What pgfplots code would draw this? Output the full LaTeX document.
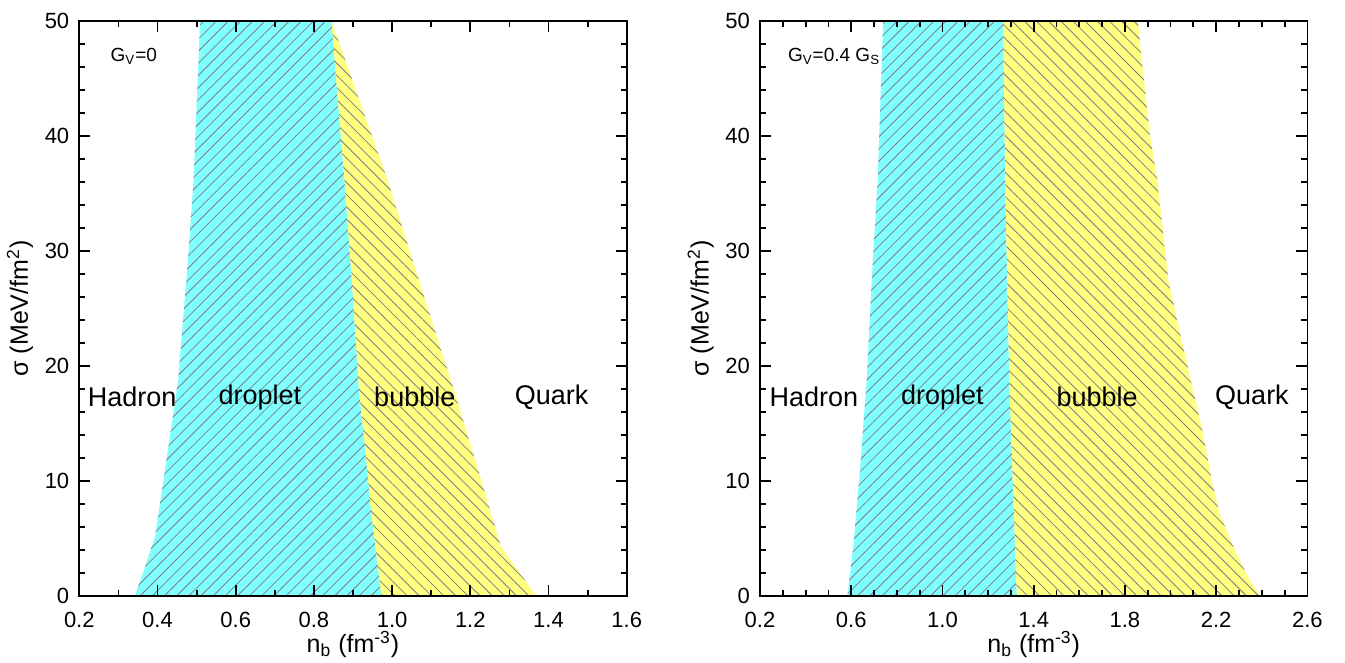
\documentclass[border=0pt]{standalone}
\usepackage{fontspec}
\setmainfont{Liberation Sans}
\usepackage{pgfplots}
\pgfplotsset{compat=1.18}
\usetikzlibrary{patterns.meta}

\definecolor{cyanF}{RGB}{128,255,255}
\definecolor{yellowF}{RGB}{255,255,128}
\definecolor{hatch}{RGB}{128,124,136}

\tikzset{region/.style={font=\fontsize{13.5}{15}\selectfont}}

\pgfplotsset{
  phase/.style={
    width=273.7pt, height=287.5pt, scale only axis,
    anchor=south west,
    xmin=0.2, ymin=0, ymax=50,
    axis on top,
    axis line style={line width=0.9pt},
    tick align=inside,
    major tick length=5.5pt, minor tick length=3pt,
    tick style={black, line width=0.9pt},
    ytick={0,10,20,30,40,50}, minor y tick num=4,
    tick label style={font=\fontsize{11}{13}\selectfont},
    /pgf/number format/assume math mode=true,
    xticklabel style={yshift=-4.5pt, /pgf/number format/.cd, fixed, fixed zerofill, precision=1},
    yticklabel style={xshift=-1.5pt},
    xlabel={n\textsubscript{b} (fm\textsuperscript{-3})},
    ylabel={σ (MeV/fm\textsuperscript{2})},
    xlabel style={yshift=5pt, font=\fontsize{12.5}{14}\selectfont},
    ylabel style={yshift=-1pt, font=\fontsize{12.5}{14}\selectfont},
  },
  cyanreg/.style={fill=cyanF, draw=none,
    postaction={pattern={Lines[angle=45,distance=4.3pt,line width=0.4pt]}, pattern color=hatch}},
  yellowreg/.style={fill=yellowF, draw=none,
    postaction={pattern={Lines[angle=-45,distance=4.3pt,line width=0.4pt]}, pattern color=hatch}},
}

\begin{document}
\begin{tikzpicture}
\useasboundingbox (0,0) rectangle (672.5pt,331.5pt);

% G_V = 0
\begin{axis}[phase, at={(39.65pt,33.5pt)}, xmax=1.6,
    xtick={0.2,0.4,0.6,0.8,1.0,1.2,1.4,1.6}, minor x tick num=1]
% droplet
\addplot[cyanreg] coordinates {
    (0.342,0) (0.368,2.5) (0.394,5.2) (0.415,10) (0.453,18.8)
    (0.475,28) (0.492,36) (0.509,50)
    (0.845,50) (0.878,36.2) (0.897,27.5) (0.916,17.6) (0.931,12.9)
    (0.945,7.8) (0.973,0)
} -- cycle;
% bubble
\addplot[yellowreg] coordinates {
    (0.845,50) (0.878,36.2) (0.897,27.5) (0.916,17.6) (0.931,12.9)
    (0.945,7.8) (0.973,0)
    (1.369,0) (1.278,4.3) (1.225,10.4) (1.161,17.6) (1.068,27.5)
    (0.988,36.2) (0.845,50)
} -- cycle;
\node[region] at (axis cs:0.335,17.3) {Hadron};
\node[region] at (axis cs:0.662,17.3) {droplet};
\node[region] at (axis cs:1.058,17.3) {bubble};
\node[region] at (axis cs:1.408,17.3) {Quark};
\node[anchor=west, font=\fontsize{9.5}{11}\selectfont] at (axis cs:0.262,46.9) {G\textsubscript{V}=0};
\end{axis}

% G_V = 0.4 G_S
\begin{axis}[phase, at={(380pt,33.5pt)}, xmax=2.6,
    xtick={0.2,0.6,1.0,1.4,1.8,2.2,2.6}, minor x tick num=3]
% droplet
\addplot[cyanreg] coordinates {
    (0.583,0) (0.609,4.3) (0.635,10.1) (0.668,18.8) (0.690,27.5)
    (0.716,36.2) (0.740,50)
    (1.266,50) (1.276,35) (1.294,18) (1.326,0)
} -- cycle;
% bubble
\addplot[yellowreg] coordinates {
    (1.266,50) (1.276,35) (1.294,18) (1.326,0)
    (2.391,0) (2.330,2) (2.275,4.3) (2.215,7.2) (2.180,10.1)
    (2.140,14.4) (2.088,18.8) (2.040,23) (1.990,27.5) (1.942,36.2)
    (1.910,40) (1.856,50)
} -- cycle;
\node[region] at (axis cs:0.436,17.3) {Hadron};
\node[region] at (axis cs:1.00,17.3) {droplet};
\node[region] at (axis cs:1.678,17.3) {bubble};
\node[region] at (axis cs:2.357,17.3) {Quark};
\node[anchor=west, font=\fontsize{9.5}{11}\selectfont] at (axis cs:0.292,46.9) {G\textsubscript{V}=0.4 G\textsubscript{S}};
\end{axis}
\end{tikzpicture}
\end{document}
